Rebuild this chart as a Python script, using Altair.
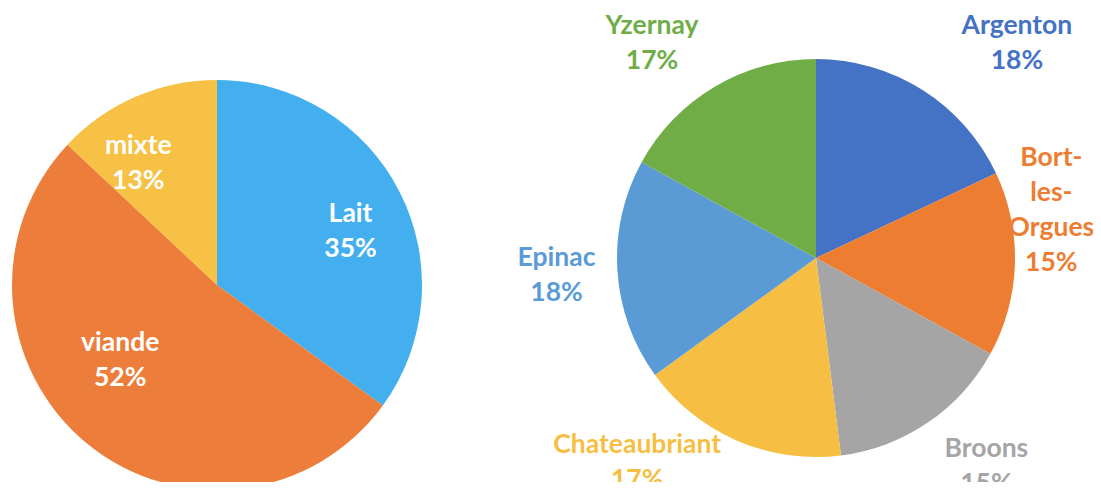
import math
import altair as alt
import pandas as pd

# ---- data ----
left_categories = ["Lait", "viande", "mixte"]
left_values = [35, 52, 13]
left_colors = ["#43AFEE", "#ED7D3A", "#F6C144"]

right_categories = ["Argenton", "Bort-les-Orgues", "Broons", "Chateaubriant", "Epinac", "Yzernay"]
right_labels = ["Argenton", "Bort-\nles-\nOrgues", "Broons", "Chateaubriant", "Epinac", "Yzernay"]
right_values = [18, 15, 15, 17, 18, 17]
right_colors = ["#4472C4", "#ED7D31", "#A5A5A5", "#F6BF43", "#5B9BD5", "#70AD47"]

# ---- layout / style (label placement relative to slice mid-angle) ----
W, H = 1085, 474
LEFT_CENTER = (209, 277)
LEFT_R = 205
RIGHT_CENTER = (808, 250)
RIGHT_R = 199
LINE_H = 35
left_label_nudge = [(5.0, 144), (12.3, 123), (-9.5, 145)]  # (degrees, radius)
right_label_nudge = [(10.7, 294), (-13.1, 240), (-5.1, 269), (17.7, 272), (-0.2, 260), (-6.8, 270)]


def build(cats, labels, vals, cols, nudges, center):
    total = sum(vals)
    rows = []
    cum = 0
    for i, (c, lab, v, col, (da, r)) in enumerate(zip(cats, labels, vals, cols, nudges)):
        mid = (cum + v / 2) / total * 360
        cum += v
        a = math.radians(mid + da)
        pct = round(v / total * 100)
        text = f"{lab}\n{pct}%"
        n_lines = text.count("\n") + 1
        rows.append(dict(cat=c, value=v, color=col, order=i,
                         label=text,
                         lx=center[0] + r * math.sin(a),
                         ly=center[1] - r * math.cos(a) - (n_lines - 1) * LINE_H / 2))
    return pd.DataFrame(rows)


left_df = build(left_categories, left_categories, left_values, left_colors, left_label_nudge, LEFT_CENTER)
right_df = build(right_categories, right_labels, right_values, right_colors, right_label_nudge, RIGHT_CENTER)


def pie(df, center, r):
    return alt.Chart(df).mark_arc(radius=r, strokeWidth=0).encode(
        theta=alt.Theta("value:Q", stack=True),
        order=alt.Order("order:Q"),
        color=alt.Color("color:N", scale=None),
        x=alt.value(center[0]),
        y=alt.value(center[1]),
    )


text_style = dict(font="Lato", fontSize=26.5, fontWeight="bold", align="center",
                  baseline="middle", lineBreak="\n", lineHeight=LINE_H)

left_text = alt.Chart(left_df).mark_text(color="white", **text_style).encode(
    x=alt.X("lx:Q", scale=None),
    y=alt.Y("ly:Q", scale=None),
    text="label:N",
)
right_text = alt.Chart(right_df).mark_text(**text_style).encode(
    x=alt.X("lx:Q", scale=None),
    y=alt.Y("ly:Q", scale=None),
    text="label:N",
    color=alt.Color("color:N", scale=None),
)

chart = alt.layer(
    pie(left_df, LEFT_CENTER, LEFT_R),
    pie(right_df, RIGHT_CENTER, RIGHT_R),
    left_text,
    right_text,
).resolve_scale(theta="independent", color="independent").properties(
    width=W, height=H, padding=0, autosize="none",
).configure_view(stroke=None)

chart.save("out.html", embed_options={"renderer": "svg", "actions": False})
